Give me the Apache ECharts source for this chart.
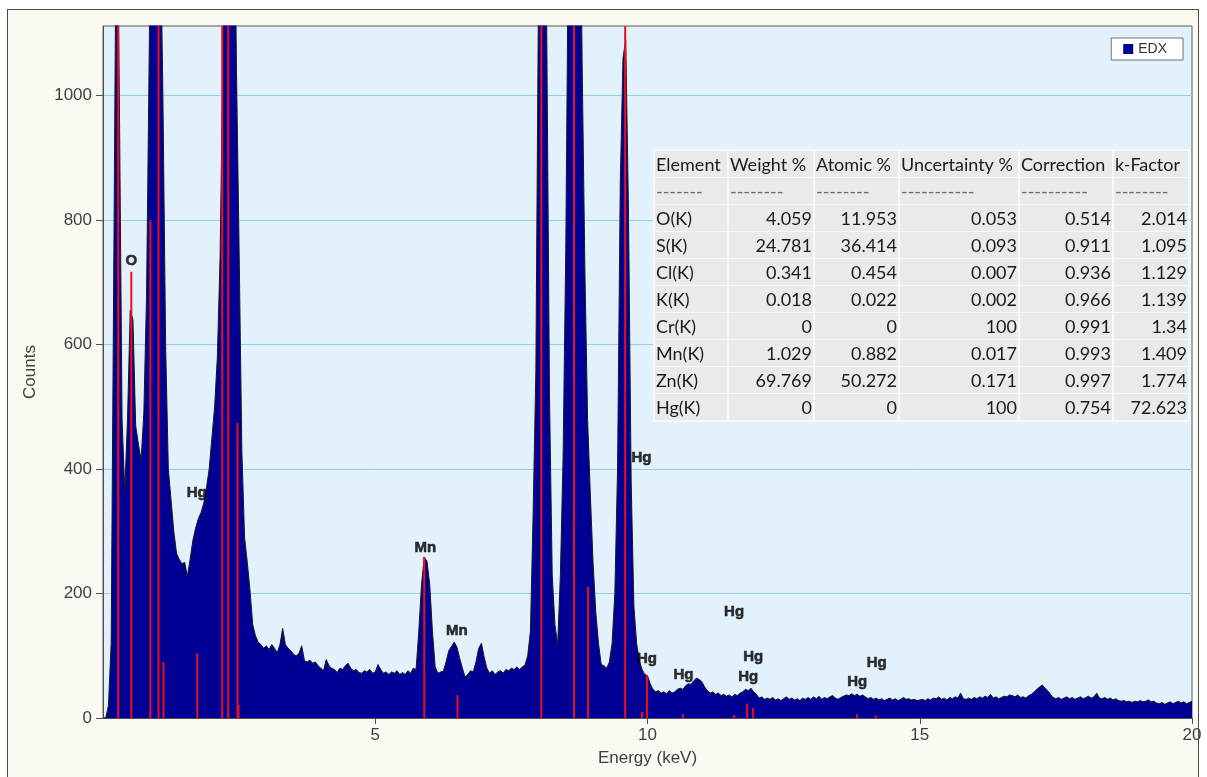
<!DOCTYPE html>
<html>
<head>
<meta charset="utf-8">
<script src="https://cdn.jsdelivr.net/npm/echarts@6/dist/echarts.min.js"></script>
<style>
html,body{margin:0;padding:0;background:#ffffff;}
body{width:1207px;height:777px;overflow:hidden;position:relative;}
#frame{position:absolute;left:7px;top:9px;width:1192px;height:800px;border:1px solid #4a4a4a;background:#FAFAF2;box-sizing:border-box;}
#chart{position:absolute;left:0;top:0;width:1207px;height:777px;}
</style>
</head>
<body>
<div id="frame"></div>
<div id="chart"></div>
<script>
// ---- Data ----
// Spectrum counts per 0.05 keV bin, from 0.00 keV to 20.00 keV
const binStart = 0;
const binWidth = 0.05;
const counts = [
  0, 0, 20, 120, 750, 1400, 1000, 480, 365, 480, 655, 640, 470, 440, 415, 490, 680, 1080, 1500, 1600,
  1500, 1300, 1000, 600, 400, 350, 300, 265, 255, 248, 250, 228, 255, 285, 305, 320, 330, 345, 370, 400,
  450, 500, 580, 740, 1050, 1500, 1700, 1700, 1500, 1050, 750, 430, 290, 250, 205, 150, 132, 122, 118, 112,
  116, 110, 118, 112, 105, 118, 144, 118, 112, 108, 102, 100, 104, 116, 92, 90, 93, 88, 90, 84,
  80, 76, 94, 84, 80, 78, 73, 80, 78, 84, 88, 80, 76, 78, 73, 72, 76, 74, 78, 72,
  74, 86, 78, 72, 74, 70, 74, 72, 76, 70, 73, 70, 76, 72, 80, 78, 140, 215, 258, 252,
  215, 140, 82, 72, 74, 75, 90, 108, 115, 122, 114, 96, 80, 66, 70, 76, 74, 90, 112, 120,
  98, 80, 72, 76, 70, 74, 76, 72, 78, 76, 80, 78, 82, 78, 82, 85, 100, 140, 330, 560,
  1200, 1500, 1400, 1100, 520, 230, 150, 118, 230, 420, 760, 1300, 1700, 1800, 1700, 1500, 1050, 720, 480, 360,
  250, 170, 120, 86, 84, 80, 90, 120, 200, 400, 860, 1060, 1090, 820, 380, 180, 120, 92, 78, 70,
  68, 55, 46, 42, 44, 40, 42, 39, 44, 40, 42, 46, 48, 46, 52, 55, 54, 60, 64, 62,
  58, 50, 44, 40, 42, 38, 40, 36, 38, 35, 37, 34, 38, 36, 40, 42, 46, 44, 48, 42,
  38, 32, 34, 30, 32, 30, 33, 29, 31, 28, 31, 34, 30, 32, 29, 31, 28, 32, 30, 33,
  30, 34, 31, 35, 30, 33, 31, 34, 36, 32, 30, 33, 35, 37, 36, 39, 36, 38, 35, 37,
  34, 31, 33, 30, 32, 29, 31, 28, 30, 32, 29, 31, 28, 30, 33, 30, 31, 29, 30, 28,
  29, 30, 28, 31, 29, 32, 31, 34, 30, 32, 29, 33, 31, 34, 32, 40, 31, 30, 32, 30,
  33, 31, 34, 32, 35, 33, 38, 32, 34, 31, 33, 35, 34, 37, 36, 34, 37, 33, 34, 32,
  36, 38, 42, 46, 50, 53, 48, 44, 38, 33, 31, 33, 30, 32, 34, 31, 33, 30, 32, 34,
  31, 33, 35, 32, 34, 40, 32, 31, 33, 30, 32, 29, 31, 28, 27, 28, 26, 27, 25, 27,
  26, 28, 26, 27, 29, 26, 27, 24, 23, 25, 22, 24, 26, 23, 25, 27, 24, 26, 23, 25, 27
];

// Red peak-marker lines (energy in keV, height in counts)
const markerEnergy = [0.28, 0.52, 0.87, 1.02, 1.11, 1.73, 2.19, 2.30, 2.47, 2.49, 5.90, 6.51, 8.05, 8.65, 8.91, 9.59, 9.90, 9.99, 10.65, 11.59, 11.83, 11.94, 13.85, 14.19];
const markerCount  = [1200, 717, 800, 1200, 90, 104, 1200, 1200, 474, 21, 259, 37, 1200, 1200, 211, 1200, 10, 69, 6, 5, 23, 16, 6, 4];

// Element labels on the spectrum
const labelNames  = ['O', 'Hg', 'Mn', 'Mn', 'Hg', 'Hg', 'Hg', 'Hg', 'Hg', 'Hg', 'Hg', 'Hg'];
const labelEnergy = [0.52, 1.72, 5.92, 6.50, 9.89, 9.99, 10.66, 11.59, 11.94, 11.85, 14.21, 13.85];
const labelCount  = [735, 362, 273, 140, 418, 95, 69, 170, 98, 66, 88, 58];

// Axis ticks
const xTicks = [5, 10, 15, 20];
const yTicks = [0, 200, 400, 600, 800, 1000];
const yMax = 1112;

// Quantification table
const tableHeaders = ['Element', 'Weight %', 'Atomic %', 'Uncertainty %', 'Correction', 'k-Factor'];
const tableDashes  = ['-------', '--------', '--------', '-----------', '----------', '--------'];
const elements       = ['O(K)', 'S(K)', 'Cl(K)', 'K(K)', 'Cr(K)', 'Mn(K)', 'Zn(K)', 'Hg(K)'];
const weightPct      = [4.059, 24.781, 0.341, 0.018, 0, 1.029, 69.769, 0];
const atomicPct      = [11.953, 36.414, 0.454, 0.022, 0, 0.882, 50.272, 0];
const uncertaintyPct = [0.053, 0.093, 0.007, 0.002, 100, 0.017, 0.171, 100];
const correction     = [0.514, 0.911, 0.936, 0.966, 0.991, 0.993, 0.997, 0.754];
const kFactor        = [2.014, 1.095, 1.129, 1.139, 1.34, 1.409, 1.774, 72.623];

// ---- Build chart ----
const spectrum = counts.map((c, i) => [+(binStart + i * binWidth).toFixed(2), c]);
const markers = markerEnergy.map((e, i) => [e, markerCount[i]]);
const peakLabels = labelNames.map((n, i) => ({ name: n, value: [labelEnergy[i], labelCount[i]] }));

const tableCols = [elements, weightPct, atomicPct, uncertaintyPct, correction, kFactor];
const colLeft  = [655, 729, 815, 900, 1020, 1114];
const colRight = [727, 813, 898, 1018, 1112, 1188];
const rowTop = 151, rowPitch = 27, rowH = 26;
const tableFont = '18px Lato';
const graphics = [];
graphics.push({ type: 'rect', z: 100, shape: { x: 653, y: 149, width: 537, height: 273 }, style: { fill: '#F7F8FA' } });
for (let r = 0; r < 2 + elements.length; r++) {
  for (let c = 0; c < tableHeaders.length; c++) {
    graphics.push({ type: 'rect', z: 101, shape: { x: colLeft[c], y: rowTop + r * rowPitch, width: colRight[c] - colLeft[c], height: rowH }, style: { fill: '#E8EBEE' } });
    let text, align, x;
    if (r === 0) { text = tableHeaders[c]; align = 'left'; x = colLeft[c] + 1; }
    else if (r === 1) { text = tableDashes[c]; align = 'left'; x = colLeft[c] + 1; }
    else {
      text = String(tableCols[c][r - 2]);
      if (c === 0) { align = 'left'; x = colLeft[c] + 1; } else { align = 'right'; x = colRight[c] - 1; }
    }
    graphics.push({
      type: 'text', z: 102, x: x, y: rowTop + r * rowPitch + rowH / 2 + 1,
      style: { text: text, font: tableFont, fill: r === 1 ? '#6a6a6a' : '#1a1a1a', align: align, textAlign: align, verticalAlign: 'middle', textVerticalAlign: 'middle' }
    });
  }
}

const axisFont = { fontFamily: 'Liberation Sans', fontSize: 17, color: '#404040' };
const chart = echarts.init(document.getElementById('chart'), null, { renderer: 'canvas' });
chart.setOption({
  animation: false,
  backgroundColor: 'transparent',
  grid: { left: 103, right: 15, top: 26, bottom: 59, show: true, backgroundColor: '#E2F1FB', borderColor: '#5a5a5a', borderWidth: 1 },
  legend: {
    data: [{ name: 'EDX', icon: 'rect' }],
    right: 24, top: 38, padding: [4, 16, 4, 12],
    backgroundColor: '#ffffff', borderColor: '#707070', borderWidth: 1,
    itemWidth: 10, itemHeight: 10,
    itemStyle: { color: '#000094', borderWidth: 0 },
    textStyle: { fontFamily: 'Liberation Sans', fontSize: 14, color: '#333' }
  },
  xAxis: {
    type: 'value', min: 0, max: 20, interval: 5,
    axisLine: { show: true, lineStyle: { color: '#505050' } },
    axisTick: { show: true, customValues: xTicks, length: 6, lineStyle: { color: '#505050' } },
    axisLabel: Object.assign({ customValues: xTicks, margin: 9, formatter: v => String(v) }, axisFont),
    splitLine: { show: false },
    name: 'Energy (keV)', nameLocation: 'middle', nameGap: 32, nameTextStyle: axisFont
  },
  yAxis: {
    type: 'value', min: 0, max: yMax, interval: 200,
    axisLine: { show: true, lineStyle: { color: '#505050' } },
    axisTick: { show: true, customValues: yTicks, length: 7, lineStyle: { color: '#505050' } },
    axisLabel: Object.assign({ customValues: yTicks, margin: 11, formatter: v => String(v) }, axisFont),
    splitLine: { show: true, lineStyle: { color: '#8FD0EA', width: 1 } },
    name: 'Counts', nameLocation: 'middle', nameRotate: 90, nameGap: 64, nameTextStyle: axisFont
  },
  series: [
    {
      name: 'EDX', type: 'line', data: spectrum, symbol: 'none', showSymbol: false,
      lineStyle: { color: '#1a1a1a', width: 1 }, itemStyle: { color: '#000094' },
      areaStyle: { color: '#000094', opacity: 1 }, z: 2, clip: true
    },
    {
      name: 'markers', type: 'bar', data: markers, barWidth: 2,
      itemStyle: { color: '#E8101A' }, z: 3, clip: true
    },
    {
      name: 'labels', type: 'scatter', data: peakLabels, symbolSize: 0, z: 4,
      label: { show: true, position: 'inside', formatter: '{b}', fontFamily: 'Liberation Sans', fontWeight: 'bold', fontSize: 15, color: '#000000', textBorderColor: '#111111', textBorderWidth: 0.6 }
    }
  ],
  graphic: graphics
});
</script>
</body>
</html>
